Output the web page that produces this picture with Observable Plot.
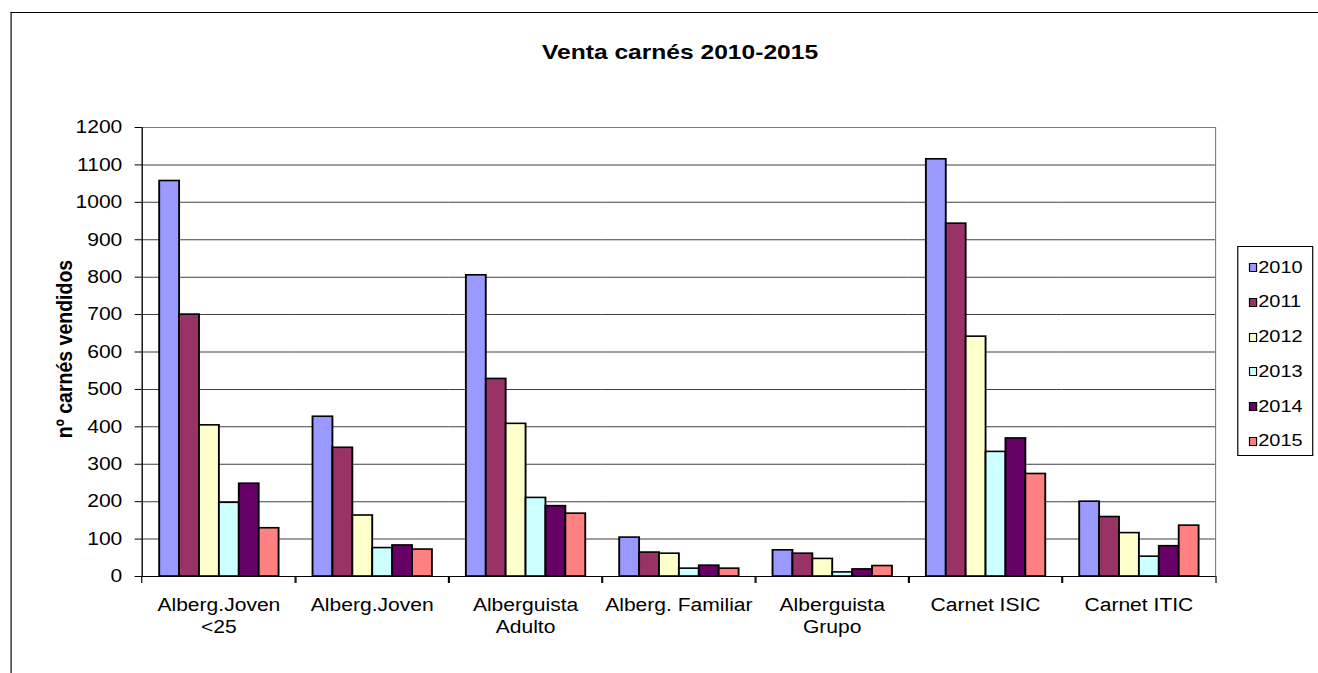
<!DOCTYPE html>
<html><head><meta charset="utf-8">
<script src="https://cdn.jsdelivr.net/npm/d3@7"></script>
<script src="https://cdn.jsdelivr.net/npm/@observablehq/plot@0.6"></script>
<style>
body{margin:0;background:#fff;overflow:hidden}
#wrap{position:relative;width:1126px;height:673px;transform:scaleX(1.1705);transform-origin:0 0;font-family:"Liberation Sans",Arial,sans-serif;color:#000;overflow:visible}
#border{position:absolute;left:8.5px;top:12px;width:1200px;height:700px;border-left:1.3px solid #000;border-top:1.5px solid #000}
#title{position:absolute;left:281px;width:600px;top:41px;text-align:center;font-weight:bold;font-size:21px;line-height:21px;white-space:nowrap}
#ylabel{position:absolute;left:54.5px;top:348.5px;transform:translate(-50%,-50%) rotate(-90deg);font-weight:bold;font-size:19.5px;line-height:1;white-space:nowrap}
#chart{position:absolute;left:0;top:0}
#legend{position:absolute;left:1056.5px;top:246px;width:65px;height:210px;border:1px solid #000;border-left-width:0.86px;border-right-width:0.86px;box-sizing:border-box;background:#fff}
.row{position:absolute;left:0;height:20px;display:flex;align-items:center;font-size:17px;line-height:20px;white-space:nowrap}
.sw{width:5.4px;height:7px;border:0.86px solid #000;border-top-width:1px;border-bottom-width:1px;margin-left:9.5px;margin-right:0.6px}
</style></head><body>
<div id="wrap">
 <div id="border"></div>
 <div id="title">Venta carnés 2010-2015</div>
 <div id="ylabel">nº carnés vendidos</div>
 <div id="chart"></div>
 <div id="legend"></div>
</div>
<script>
const categories = ["Alberg.Joven\n<25","Alberg.Joven","Alberguista\nAdulto","Alberg. Familiar","Alberguista\nGrupo","Carnet ISIC","Carnet ITIC"];
const years = ["2010","2011","2012","2013","2014","2015"];
const colors = ["#9999FF","#993366","#FFFFCC","#CCFFFF","#660066","#FF8080"];
const v2010 = [1057, 427, 805, 104, 70, 1115, 200];
const v2011 = [700, 344, 528, 64, 61, 943, 159];
const v2012 = [404, 163, 408, 61, 47, 641, 116];
const v2013 = [197, 76, 210, 21, 11, 333, 53];
const v2014 = [248, 83, 188, 29, 19, 369, 81];
const v2015 = [129, 72, 168, 21, 28, 274, 136];
const yTicks = [0,100,200,300,400,500,600,700,800,900,1000,1100,1200];

const series = [v2010, v2011, v2012, v2013, v2014, v2015];
const data = [];
categories.forEach((c, i) => years.forEach((y, j) => data.push({category: c, year: y, value: series[j][i]})));

const W = 1126, H = 673, ML = 118, MR = 85.5;
const bw = (W - ML - MR) / categories.length;

const plot = Plot.plot({
  width: W, height: H,
  marginLeft: ML, marginRight: MR, marginTop: 127, marginBottom: 97,
  style: {fontFamily: "Liberation Sans, Arial, sans-serif", fontSize: "18px", background: "transparent", color: "#000", overflow: "visible"},
  fx: {domain: categories, padding: 0, label: null},
  x: {domain: years, paddingInner: 0, paddingOuter: 0.72, axis: null},
  y: {domain: [0, 1200], label: null},
  color: {domain: years, range: colors},
  marks: [
    Plot.gridY(yTicks, {stroke: "#404040", strokeOpacity: 1}),
    Plot.barY(data, {fx: "category", x: "year", y: "value", fill: "year", stroke: "#000", strokeWidth: 1.6}),
    Plot.frame({facet: "super", stroke: "#808080"}),
    Plot.frame({facet: "super", anchor: "left", stroke: "#000"}),
    Plot.ruleY([0], {stroke: "#000"}),
    Plot.axisY(yTicks, {tickSize: 6, tickPadding: 11, label: null, tickFormat: d => String(d)}),
    Plot.axisFx({anchor: "bottom", tickSize: 7, tickFormat: () => "", dx: -bw / 2, label: null}),
    Plot.axisFx([categories[categories.length - 1]], {anchor: "bottom", tickSize: 7, tickFormat: () => "", dx: bw / 2, label: null}),
    Plot.axisFx({anchor: "bottom", tickSize: 0, tickPadding: 18, label: null, lineHeight: 1.26})
  ]
});
document.getElementById("chart").appendChild(plot);

const legend = document.getElementById("legend");
years.forEach((y, i) => {
  const row = document.createElement("div");
  row.className = "row";
  row.style.top = (20.7 + i * 34.7 - 10) + "px";
  const sw = document.createElement("div");
  sw.className = "sw";
  sw.style.background = colors[i];
  const t = document.createElement("span");
  t.textContent = y;
  row.appendChild(sw); row.appendChild(t);
  legend.appendChild(row);
});
</script>
</body></html>
